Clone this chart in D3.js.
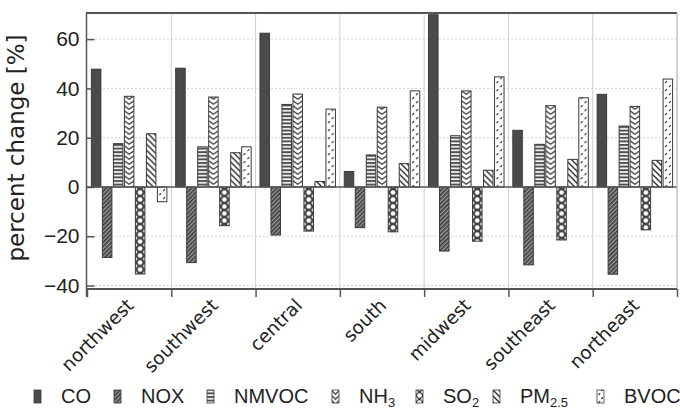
<!DOCTYPE html>
<html>
<head>
<meta charset="utf-8">
<script src="https://cdn.jsdelivr.net/npm/d3@7"></script>
<style>
  body { margin: 0; background: #fff; }
  svg { display: block; }
</style>
</head>
<body>
<svg id="chart" width="680" height="408"></svg>
<script>
// values, one array per pollutant (percent change)
const regions = ['northwest', 'southwest', 'central', 'south', 'midwest', 'southeast', 'northeast'];
const pollutants = ['CO', 'NOX', 'NMVOC', 'NH3', 'SO2', 'PM2.5', 'BVOC'];
const co    = [47.8, 48.2, 62.4, 6.3, 69.9, 23.0, 37.6];
const nox   = [-28.6, -30.7, -19.5, -16.5, -26.0, -31.6, -35.4];
const nmvoc = [17.6, 16.3, 33.5, 13.0, 20.8, 17.3, 24.7];
const nh3   = [36.8, 36.5, 37.7, 32.4, 39.0, 33.0, 32.7];
const so2   = [-35.3, -15.7, -17.9, -18.2, -22.0, -21.5, -17.4];
const pm25  = [21.6, 13.9, 2.2, 9.5, 6.8, 11.2, 10.8];
const bvoc  = [-6.0, 16.3, 31.6, 39.0, 44.7, 36.2, 43.8];
const yTicks = [-40, -20, 0, 20, 40, 60];
// legend text: main part + subscript
const legendNames = [['CO', ''], ['NOX', ''], ['NMVOC', ''], ['NH', '3'], ['SO', '2'], ['PM', '2.5'], ['BVOC', '']];

const seriesValues = [co, nox, nmvoc, nh3, so2, pm25, bvoc];

const svg = d3.select('#chart');
const pLeft = 87, pRight = 677, pTop = 13, pBottom = 289;

const y = d3.scaleLinear().domain([-41.4, 70.6]).range([pBottom, pTop]);
const x0 = d3.scaleBand().domain(regions).range([pLeft, pRight]).padding(0);
const x1 = d3.scaleBand().domain(pollutants).range([0, x0.bandwidth()])
  .paddingInner(0.136).paddingOuter(0.4);
const xEdges = d3.scaleLinear().domain([0, regions.length]).range([pLeft, pRight]);

const defs = svg.append('defs');

// hatch fills, one pattern per bar so the motif lines up with the bar's left edge
function makeFill(id, kind, x, w) {
  if (kind === 0) return '#4b4b4b';
  const p = defs.append('pattern').attr('id', id)
    .attr('patternUnits', 'userSpaceOnUse').attr('x', x).attr('y', 0);
  if (kind === 1) {
    p.attr('width', 3).attr('height', 3).attr('patternTransform', 'rotate(45)');
    p.append('rect').attr('width', 3).attr('height', 3).attr('fill', '#9a9a9a');
    p.append('rect').attr('width', 1.6).attr('height', 3).attr('fill', '#3c3c3c');
  } else if (kind === 2) {
    p.attr('width', w).attr('height', 3.6);
    p.append('rect').attr('width', w).attr('height', 3.6).attr('fill', '#fff');
    p.append('rect').attr('width', w).attr('height', 2).attr('fill', '#505050');
  } else if (kind === 3) {
    p.attr('width', w).attr('height', 5);
    p.append('rect').attr('width', w).attr('height', 5).attr('fill', '#fff');
    p.append('path').attr('d', `M0,0.8L${w / 2},4.2L${w},0.8`)
      .attr('fill', 'none').attr('stroke', '#4a4a4a').attr('stroke-width', 1.4);
  } else if (kind === 4) {
    p.attr('width', w).attr('height', 7);
    p.append('rect').attr('width', w).attr('height', 7).attr('fill', '#454545');
    p.append('circle').attr('cx', w / 2).attr('cy', 3.5).attr('r', 2.3).attr('fill', '#fff');
    [[0, 0], [w, 0], [0, 7], [w, 7]].forEach(c =>
      p.append('circle').attr('cx', c[0]).attr('cy', c[1]).attr('r', 1.8).attr('fill', '#fff'));
  } else if (kind === 5) {
    p.attr('width', 6).attr('height', 6);
    p.append('rect').attr('width', 6).attr('height', 6).attr('fill', '#fff');
    p.append('path').attr('d', 'M0,0L6,6M-1,5L1,7M5,-1L7,1')
      .attr('stroke', '#222').attr('stroke-width', 1.3);
  } else if (kind === 6) {
    p.attr('width', w).attr('height', 8);
    p.append('rect').attr('width', w).attr('height', 8).attr('fill', '#fff');
    p.append('path').attr('d', `M${w * 0.22},3.2l1.6,-2M${w * 0.62},7.2l1.6,-2`)
      .attr('stroke', '#333').attr('stroke-width', 1.2);
  }
  return `url(#${id})`;
}

// grid
svg.append('g')
  .selectAll('line')
  .data(yTicks.filter(t => t !== 0))
  .enter().append('line')
  .attr('x1', pLeft).attr('x2', pRight)
  .attr('y1', d => y(d)).attr('y2', d => y(d))
  .attr('stroke', '#d4d4d4').attr('stroke-dasharray', '2,2');

svg.append('g')
  .selectAll('line')
  .data(d3.range(1, regions.length + 1))
  .enter().append('line')
  .attr('x1', d => xEdges(d)).attr('x2', d => xEdges(d))
  .attr('y1', pTop).attr('y2', pBottom)
  .attr('stroke', '#cfcfcf');

// bars
const bars = [];
seriesValues.forEach((vals, si) => {
  vals.forEach((v, ci) => bars.push({ si, ci, v, key: pollutants[si], region: regions[ci] }));
});

svg.append('g')
  .selectAll('rect')
  .data(bars)
  .enter().append('rect')
  .attr('x', d => x0(d.region) + x1(d.key))
  .attr('y', d => y(Math.max(0, d.v)))
  .attr('width', x1.bandwidth())
  .attr('height', d => Math.abs(y(d.v) - y(0)))
  .attr('fill', d => makeFill(`p${d.si}-${d.ci}`, d.si, x0(d.region) + x1(d.key), x1.bandwidth()))
  .attr('stroke', '#3a3a3a')
  .attr('stroke-width', 1);

// zero line
svg.append('line')
  .attr('x1', pLeft).attr('x2', pRight)
  .attr('y1', y(0)).attr('y2', y(0))
  .attr('stroke', '#555').attr('stroke-width', 1.5);

// frame
svg.append('line').attr('x1', pLeft - 1).attr('x2', pRight).attr('y1', pTop).attr('y2', pTop)
  .attr('stroke', '#555').attr('stroke-width', 2);
svg.append('line').attr('x1', pRight).attr('x2', pRight).attr('y1', pTop).attr('y2', pBottom)
  .attr('stroke', '#bbb');

// y axis
const yAxis = svg.append('g')
  .attr('transform', `translate(${pLeft - 0.5},0)`)
  .call(d3.axisLeft(y).tickValues(yTicks).tickSizeInner(-8).tickSizeOuter(0).tickPadding(7));
yAxis.select('.domain').attr('d', `M0,${pTop}V${pBottom + 8}`).attr('stroke', '#555').attr('stroke-width', 1.5);
yAxis.selectAll('.tick line').attr('stroke', '#555').attr('stroke-width', 1.5);
yAxis.selectAll('.tick text')
  .attr('font-family', '"Liberation Sans", Arial, sans-serif')
  .attr('font-size', 21).attr('fill', '#222');

// x axis: tick marks at region edges, labels at region centres
const xTicks = svg.append('g')
  .attr('transform', `translate(0,${pBottom})`)
  .call(d3.axisBottom(xEdges).tickValues(d3.range(0, regions.length + 1)).tickSize(8).tickFormat(''));
xTicks.select('.domain').attr('d', `M${pLeft - 1},0H${pRight}`).attr('stroke', '#555').attr('stroke-width', 2);
xTicks.selectAll('.tick line').attr('stroke', '#555').attr('stroke-width', 1.5);

const xLabels = svg.append('g')
  .attr('transform', `translate(0,${pBottom})`)
  .call(d3.axisBottom(x0).tickSize(0));
xLabels.select('.domain').remove();
xLabels.selectAll('text')
  .attr('x', 0).attr('y', 0).attr('dy', '0.35em')
  .attr('text-anchor', 'end')
  .attr('transform', 'translate(1,13) rotate(-45)')
  .attr('font-family', '"DejaVu Sans", sans-serif')
  .attr('font-size', 18.5).attr('fill', '#222');

// y title
svg.append('text')
  .attr('transform', 'translate(24,148) rotate(-90)')
  .attr('text-anchor', 'middle')
  .attr('font-family', '"DejaVu Sans", sans-serif')
  .attr('font-size', 23).attr('fill', '#222')
  .text('percent change [%]');

// legend (text x positions as laid out in the figure)
const legendX = [61, 141, 234, 359, 443, 520, 624];
const legend = svg.append('g');
legendNames.forEach((nm, si) => {
  const lx = legendX[si];
  legend.append('rect')
    .attr('x', lx - 27).attr('y', 390).attr('width', 7).attr('height', 13)
    .attr('fill', makeFill(`leg${si}`, si, lx - 27, 7))
    .attr('stroke', '#3a3a3a').attr('stroke-width', 0.8);
  const t = legend.append('text')
    .attr('x', lx).attr('y', 403)
    .attr('font-family', '"Liberation Sans", Arial, sans-serif')
    .attr('font-size', 20).attr('fill', '#222')
    .text(nm[0]);
  if (nm[1]) t.append('tspan').attr('dy', 3.5).attr('font-size', 13).text(nm[1]);
});
</script>
</body>
</html>
